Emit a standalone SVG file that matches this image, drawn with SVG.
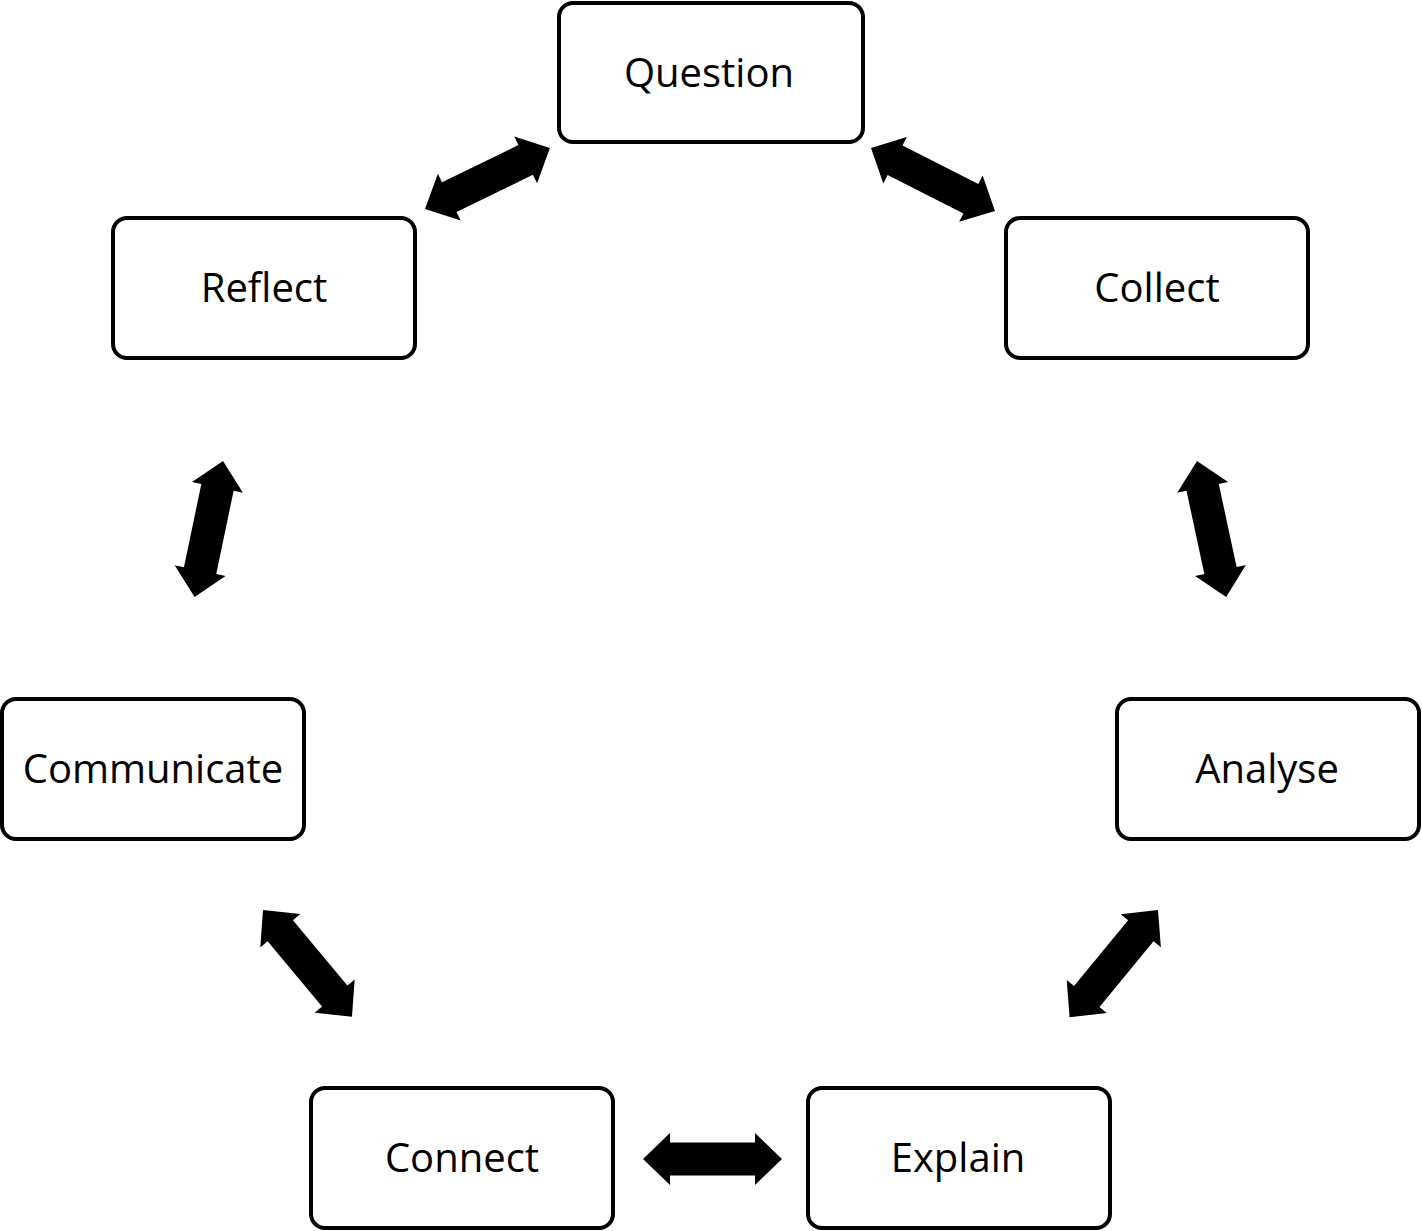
<svg xmlns="http://www.w3.org/2000/svg" xmlns:xlink="http://www.w3.org/1999/xlink" width="1422" height="1231" viewBox="0 0 1422 1231">
<style>
.box{fill:#fff;stroke:#000;stroke-width:4}
.lbl{font-family:"Open Sans","Liberation Sans",sans-serif;font-size:40px;fill:#000;text-anchor:middle}
.arr{fill:#000}
</style>
<defs>
<polygon id="arr" points="0,0 27,-26 27,-16.5 112,-16.5 112,-26 139,0 112,26 112,16.5 27,16.5 27,26"/>
</defs>
<rect width="1422" height="1231" fill="#fff"/>
<g id="connectors" class="arr">
<use xlink:href="#arr" transform="translate(425,209) rotate(-26)"/>
<use xlink:href="#arr" transform="translate(871,148) rotate(26.9)"/>
<use xlink:href="#arr" transform="translate(223,461) rotate(101.8)"/>
<use xlink:href="#arr" transform="translate(1197,461) rotate(77.9)"/>
<use xlink:href="#arr" transform="translate(263,910) rotate(50.2)"/>
<use xlink:href="#arr" transform="translate(1158,910) rotate(129.5)"/>
<use xlink:href="#arr" transform="translate(643,1159)"/>
</g>
<g id="question"><rect class="box" x="559" y="3" width="304" height="139" rx="14"/><text class="lbl" x="709" y="87">Question</text></g>
<g id="reflect"><rect class="box" x="113" y="218" width="302" height="140" rx="14"/><text class="lbl" x="264" y="302">Reflect</text></g>
<g id="collect"><rect class="box" x="1006" y="218" width="302" height="140" rx="14"/><text class="lbl" x="1157" y="302">Collect</text></g>
<g id="communicate"><rect class="box" x="2" y="699" width="302" height="140" rx="14"/><text class="lbl" x="153" y="783">Communicate</text></g>
<g id="analyse"><rect class="box" x="1117" y="699" width="302" height="140" rx="14"/><text class="lbl" x="1267" y="783">Analyse</text></g>
<g id="connect"><rect class="box" x="311" y="1088" width="302" height="140" rx="14"/><text class="lbl" x="462" y="1172">Connect</text></g>
<g id="explain"><rect class="box" x="808" y="1088" width="302" height="140" rx="14"/><text class="lbl" x="958" y="1172">Explain</text></g>
</svg>
